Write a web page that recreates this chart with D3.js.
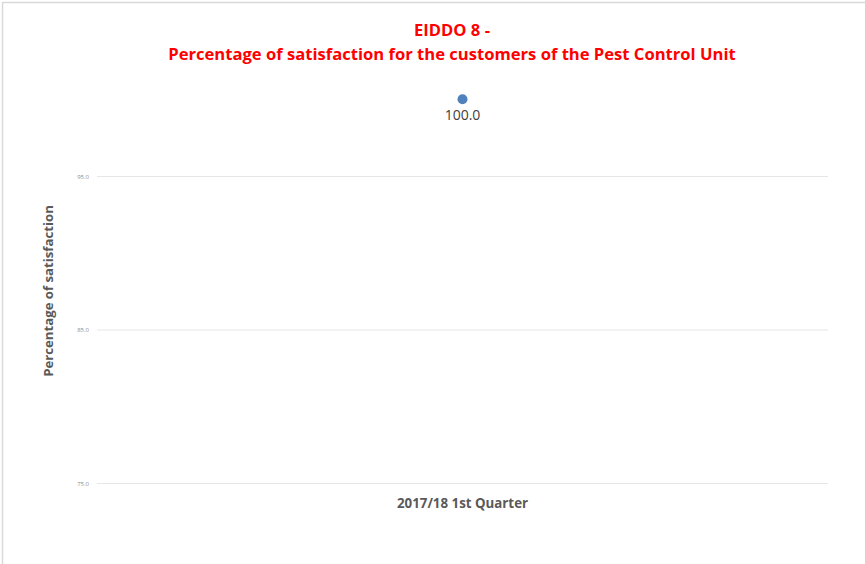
<!DOCTYPE html>
<html>
<head>
<meta charset="utf-8">
<script src="https://cdn.jsdelivr.net/npm/d3@7"></script>
<style>
  body { margin: 0; background: #fff; }
  text { font-family: "Open Sans", "Liberation Sans", sans-serif; }
</style>
</head>
<body>
<div id="chart"></div>
<script>
// Data ------------------
var titleLines = ['EIDDO 8 -', 'Percentage of satisfaction for the customers of the Pest Control Unit'];
var categories = ['2017/18 1st Quarter'];
var values = [100.0];
var yTicks = [75, 85, 95];
var yLabel = 'Percentage of satisfaction';
// END data --------------

var W = 865, H = 564;
var plot = {left: 97, right: 828, top: 99.25, bottom: 483};

var svg = d3.select('#chart')
    .append('svg')
    .attr('width', W)
    .attr('height', H);

// outer frame
svg.append('rect')
    .attr('x', 2.5).attr('y', 2.5)
    .attr('width', W + 10).attr('height', H + 10)
    .attr('fill', 'none')
    .attr('stroke', '#d9d9d9')
    .attr('stroke-width', 1.5);

var xScale = d3.scalePoint().domain(categories).range([plot.left, plot.right]).padding(0.5),
    yScale = d3.scaleLinear().domain([75, 100]).range([plot.bottom, plot.top]);

// gridlines + tick labels
var yAxis = d3.axisLeft(yScale)
    .tickValues(yTicks)
    .tickSize(-(plot.right - plot.left))
    .tickPadding(8)
    .tickFormat(d3.format('.1f'));

var gy = svg.append('g')
    .attr('transform', 'translate(' + plot.left + ',0)')
    .call(yAxis);
gy.select('.domain').remove();
gy.selectAll('.tick line').attr('stroke', '#e6e6e6').attr('stroke-width', 1);
gy.selectAll('.tick text')
    .attr('fill', '#8c8c8c')
    .style('font-size', '6px')
    .attr('dy', '0.35em');

// category label
svg.selectAll('.cat')
    .data(categories)
    .enter().append('text')
    .attr('class', 'cat')
    .attr('x', function(d){ return xScale(d); })
    .attr('y', 508)
    .attr('text-anchor', 'middle')
    .attr('fill', '#595959')
    .style('font-size', '13.3px')
    .style('font-weight', 'bold')
    .text(function(d){ return d; });

// points + data labels
var pts = svg.selectAll('.pt')
    .data(values)
    .enter().append('g');

pts.append('circle')
    .attr('cx', function(d, i){ return xScale(categories[i]); })
    .attr('cy', function(d){ return yScale(d); })
    .attr('r', 5)
    .attr('fill', '#4f81bd');

pts.append('text')
    .attr('x', function(d, i){ return xScale(categories[i]); })
    .attr('y', function(d){ return yScale(d) + 21; })
    .attr('text-anchor', 'middle')
    .attr('fill', '#404040')
    .style('font-size', '14px')
    .text(function(d){ return d3.format('.1f')(d); });

// y axis title
svg.append('text')
    .attr('transform', 'translate(53,291) rotate(-90)')
    .attr('text-anchor', 'middle')
    .attr('fill', '#595959')
    .style('font-size', '13.2px')
    .style('font-weight', 'bold')
    .text(yLabel);

// title
svg.selectAll('.title')
    .data(titleLines)
    .enter().append('text')
    .attr('class', 'title')
    .attr('x', 452)
    .attr('y', function(d, i){ return 36 + i * 24; })
    .attr('text-anchor', 'middle')
    .attr('fill', '#ff0000')
    .style('font-size', '16.6px')
    .style('font-weight', 'bold')
    .text(function(d){ return d; });
</script>
</body>
</html>
